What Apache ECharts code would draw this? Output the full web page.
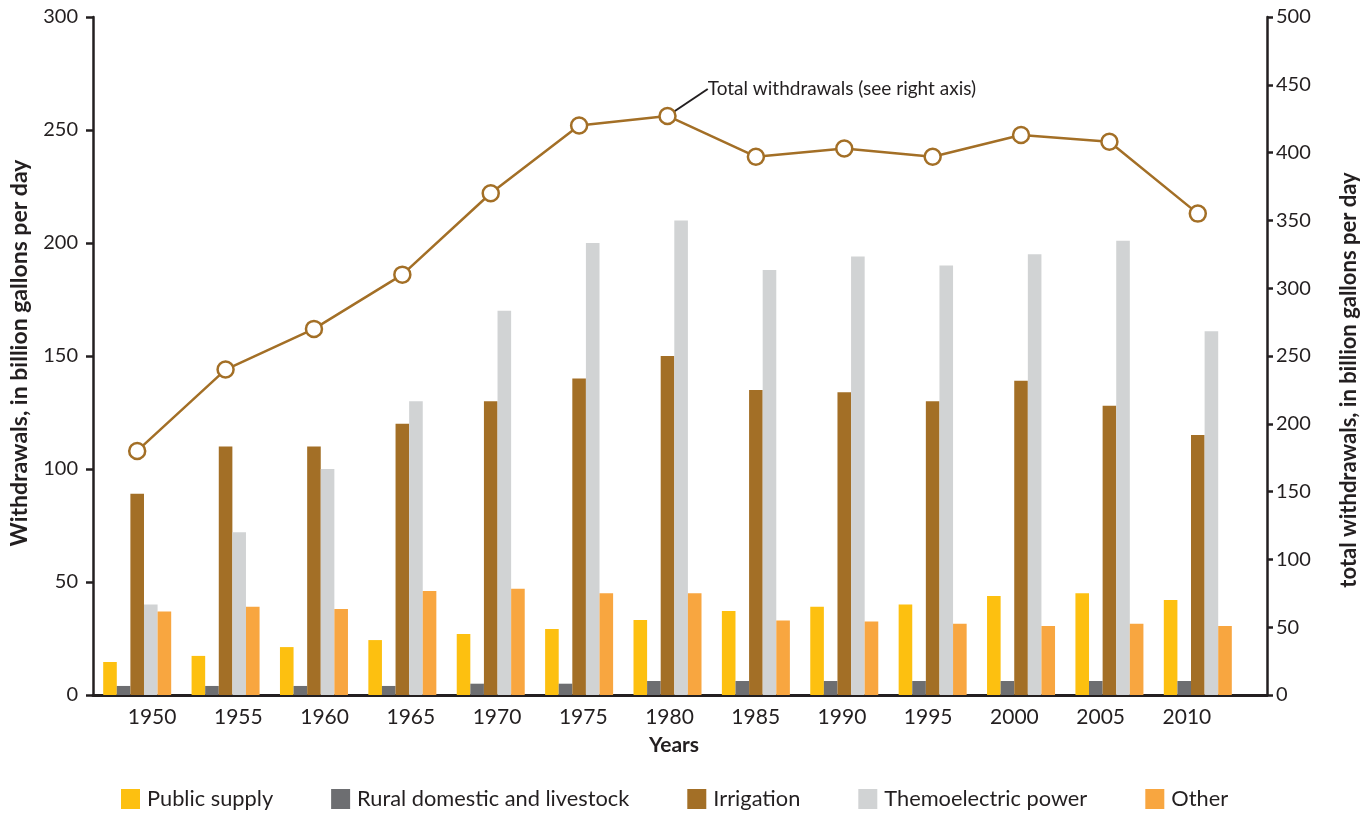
<!DOCTYPE html>
<html>
<head>
<meta charset="utf-8">
<script src="https://cdn.jsdelivr.net/npm/echarts@6/dist/echarts.min.js"></script>
<style>
html,body{margin:0;padding:0;background:#fff;}
#chart{width:1369px;height:815px;}
</style>
</head>
<body>
<div id="chart"></div>
<script>
var years = ['1950','1955','1960','1965','1970','1975','1980','1985','1990','1995','2000','2005','2010'];
var publicSupply = [14.6, 17.3, 21.2, 24.3, 27, 29.2, 33.2, 37.2, 39, 40, 43.8, 45, 42];
var rural = [4, 4, 4, 4, 5, 5, 6.2, 6.2, 6.2, 6.2, 6.2, 6.2, 6.2];
var irrigation = [89, 110, 110, 120, 130, 140, 150, 135, 134, 130, 139, 128, 115];
var thermo = [40, 72, 100, 130, 170, 200, 210, 188, 194, 190, 195, 201, 161];
var other = [37, 39, 38, 46, 47, 45, 45, 33, 32.5, 31.5, 30.5, 31.5, 30.5];
var total = [180, 240, 270, 310, 370, 420, 427, 397, 403, 397, 413, 408, 355];
var annotation = 'Total withdrawals (see right axis)';
var annotatedIndex = 6;

var FONT = 'Lato';
var TXT = '#231F20';
var BROWN = '#A36F26';
var chart = echarts.init(document.getElementById('chart'), null, {renderer:'canvas'});

function barSeries(name, data, color){
  return {name:name, type:'bar', data:data, xAxisIndex:1, yAxisIndex:2,
    barWidth:13.6, barGap:'0%', itemStyle:{color:color}, emphasis:{disabled:true}};
}

var totalData = total.map(function(v,i){
  if(i===annotatedIndex){
    return {value:v, label:{show:true, formatter:annotation, position:'right', distance:5,
      fontFamily:FONT, fontSize:19, color:TXT}};
  }
  return v;
});

var option = {
  backgroundColor:'#ffffff',
  animation:false,
  textStyle:{fontFamily:FONT, color:TXT},
  grid:[
    {left:93, right:102, top:17, bottom:120, containLabel:false},
    {left:93, right:127, top:17, bottom:120, containLabel:false},
    {left:109, right:139, top:17, bottom:120, containLabel:false}
  ],
  legend:{
    data:['Public supply','Rural domestic and livestock','Irrigation','Themoelectric power','Other'],
    left:116, bottom:0, itemWidth:19, itemHeight:20, itemGap:58, icon:'rect',
    textStyle:{fontFamily:FONT, fontSize:21.8, color:TXT, padding:[0,0,0,2]}
  },
  xAxis:[
    {type:'category', data:years, gridIndex:0, boundaryGap:true,
      axisLine:{show:true, lineStyle:{color:TXT, width:3}},
      axisTick:{show:false}, axisLabel:{show:false},
      name:'Years', nameLocation:'middle', nameGap:40,
      nameTextStyle:{fontFamily:FONT, fontSize:21, fontWeight:'bold', color:TXT, padding:[0,12,0,0]}},
    {type:'category', data:years, gridIndex:1, boundaryGap:true, show:false},
    {type:'category', data:years, gridIndex:2, boundaryGap:true,
      axisLine:{show:false}, axisTick:{show:false},
      axisLabel:{show:true, margin:12, fontFamily:FONT, fontSize:21, color:TXT}}
  ],
  yAxis:[
    {type:'value', gridIndex:0, min:0, max:300, interval:50, position:'left',
      axisLine:{show:true, lineStyle:{color:TXT, width:2.5}},
      axisTick:{show:true, length:7, lineStyle:{color:TXT, width:2.5}},
      axisLabel:{fontFamily:FONT, fontSize:20, color:TXT, margin:15},
      splitLine:{show:false},
      name:'Withdrawals, in billion gallons per day', nameLocation:'middle', nameGap:62, nameRotate:90,
      nameTextStyle:{fontFamily:FONT, fontSize:23, fontWeight:'bold', color:TXT, padding:[0,0,0,6]}},
    {type:'value', gridIndex:0, min:0, max:500, interval:50, position:'right',
      axisLine:{show:true, lineStyle:{color:TXT, width:2.5}},
      axisTick:{show:true, length:6, lineStyle:{color:TXT, width:2.5}},
      axisLabel:{fontFamily:FONT, fontSize:20, color:TXT, margin:9},
      splitLine:{show:false},
      name:'total withdrawals, in billion gallons per day', nameLocation:'middle', nameGap:71, nameRotate:90,
      nameTextStyle:{fontFamily:FONT, fontSize:22, fontWeight:'bold', color:TXT, padding:[0,48,0,0]}},
    {type:'value', gridIndex:1, show:false, min:0, max:300},
    {type:'value', gridIndex:1, show:false, min:0, max:500},
    {type:'value', gridIndex:2, show:false, min:0, max:300}
  ],
  series:[
    barSeries('Public supply', publicSupply, '#FDC010'),
    barSeries('Rural domestic and livestock', rural, '#6D6E71'),
    barSeries('Irrigation', irrigation, BROWN),
    barSeries('Themoelectric power', thermo, '#D1D3D4'),
    barSeries('Other', other, '#F8A640'),
    {name:'Total withdrawals', type:'line', data:totalData, xAxisIndex:1, yAxisIndex:3,
      symbol:'circle', symbolSize:16, z:5,
      lineStyle:{color:BROWN, width:2.5},
      itemStyle:{color:'#ffffff', borderColor:BROWN, borderWidth:2.5},
      label:{show:false},
      labelLine:{show:true, lineStyle:{color:TXT, width:2}, smooth:false},
      labelLayout:function(p){
        if(p.dataIndex===annotatedIndex){ return {dx:26, dy:-27}; }
        return {};
      },
      emphasis:{disabled:true}}
  ]
};
chart.setOption(option);
</script>
</body>
</html>
